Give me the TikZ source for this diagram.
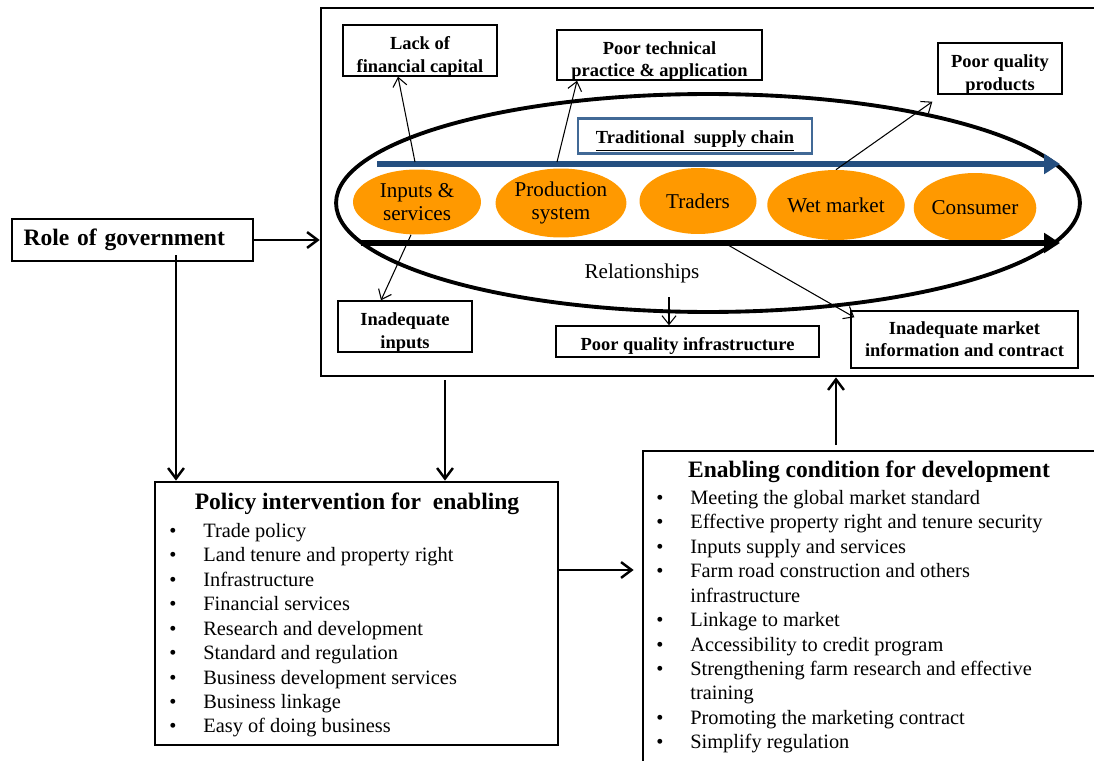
\documentclass[tikz,border=0pt]{standalone}
\usepackage{fontspec}
\setmainfont{Liberation Serif}
\usetikzlibrary{shapes.geometric,arrows.meta,positioning}
\definecolor{chainorange}{RGB}{255,153,0}
\definecolor{chainblue}{RGB}{37,79,128}
\definecolor{tagblue}{RGB}{65,105,150}
\newcommand{\bul}{\makebox[0.68cm][l]{\textbullet}}
\newcommand{\ind}{\hspace*{0.68cm}}
% lower the text inside a box without changing the box
\newcommand{\lift}[2][-3.4pt]{\raisebox{#1}[\height][\depth]{\begin{tabular}{@{}c@{}}#2\end{tabular}}}

\begin{document}
\begin{tikzpicture}[x=0.02cm, y=-0.02cm,
	box/.style={draw, line width=0.8pt, inner sep=1pt,
		font=\fontsize{10.5}{13}\selectfont\bfseries},
	frame/.style={draw, line width=1.6pt},
	stage/.style={ellipse, fill=chainorange, align=center, inner sep=0pt,
		font=\fontsize{12}{13.5}\selectfont},
	bigarrow/.style={line width=1.4pt, -{Straight Barb[length=6pt,width=9pt]}},
	thinarrow/.style={line width=0.6pt, -{Straight Barb[length=5pt,width=8pt]}},
	flow/.style={line width=3pt, -{Triangle[length=9pt,width=11pt]}},
	listtxt/.style={align=left, inner sep=0pt, anchor=north west,
		font=\fontsize{11.6}{13.9}\selectfont},
	head/.style={font=\fontsize{13.4}{15}\selectfont\bfseries}]
\useasboundingbox (0,0) rectangle (1094,760);

% frames
\node[frame, minimum width=15.78cm, minimum height=7.36cm] (main) at (715.5,192) {};
\node[frame, minimum width=9.34cm, minimum height=6.48cm] (enab) at (876.5,613) {};
\node[frame, minimum width=8.06cm, minimum height=5.26cm] (policy) at (356.5,613.5) {};
\node[frame, head, minimum width=4.82cm, minimum height=0.84cm, text width=4.36cm,
	align=left] (rog) at (132.5,240) {Role of government};

% supply chain
\node[draw, ellipse, line width=2.2pt, minimum width=14.88cm, minimum height=4.36cm] (chain) at (708,203) {};
\node[stage, minimum width=2.56cm, minimum height=1.3cm] (inp) at (417,202) {Inputs \&\\services};
\node[stage, minimum width=2.56cm, minimum height=1.38cm] (prod) at (561,203) {Production\\system};
\node[stage, minimum width=2.34cm, minimum height=1.32cm] (trad) at (698,201) {Traders};
\node[stage, minimum width=2.52cm, minimum height=1.4cm] (wet) at (836,205) {Wet market};
\node[stage, minimum width=2.28cm, minimum height=1.4cm] (cons) at (975,208) {\raisebox{-2pt}{Consumer}};

\coordinate (b1) at (377,164);
\coordinate (b2) at (1060,164);
\coordinate (k1) at (361,243);
\coordinate (k2) at (1060,243);
\draw[flow, chainblue] (b1) -- (b2);
\draw[flow] (k1) -- (k2);

\node[draw=tagblue, line width=1.6pt, minimum width=4.68cm, minimum height=0.64cm,
	font=\fontsize{10.5}{13}\selectfont\bfseries] (trsc) at (695,136) {\lift[-2pt]{\underline{Traditional\ \ supply chain}}};
\node[font=\fontsize{12}{14}\selectfont] (rel) at (642,273) {Relationships};

% constraints
\node[box, minimum width=3.08cm, minimum height=1.02cm] (lack) at (420,50.5) {\lift{Lack of\\financial capital}};
\node[box, minimum width=4.1cm, minimum height=1.0cm] (tech) at (659.5,55) {\lift{Poor technical\\practice \& application}};
\node[box, minimum width=2.48cm, minimum height=1.02cm] (qual) at (1000,68.5) {\lift{Poor quality\\products}};
\node[box, minimum width=2.68cm, minimum height=1.02cm] (inad) at (405,326.5) {\lift{Inadequate\\inputs}};
\node[box, minimum width=5.26cm, minimum height=0.62cm] (infra) at (687.5,341.5) {\lift[-2.4pt]{Poor quality infrastructure}};
\node[box, minimum width=4.54cm, minimum height=1.14cm] (info) at (964.5,339.5) {\lift[-0.8pt]{Inadequate market\\information and contract}};

\coordinate (t1) at (415,162);
\coordinate (t2) at (557,162);
\coordinate (r1) at (669,297);
\coordinate (k3) at (728,245);
\draw[thinarrow] (t1) -- ([xshift=-0.44cm]lack.south);
\draw[thinarrow] (t2) -- ([xshift=-1.65cm]tech.south);
\draw[thinarrow] (wet.north) -- ([shift={(-5,7)}]qual.south west);
\draw[thinarrow] ([xshift=-0.12cm]inp.south) -- ([xshift=-0.48cm]inad.north);
\draw[thinarrow] (r1) -- (r1 |- infra.north);
\draw[thinarrow] (k3) -- ([shift={(4,7)}]info.north west);

% policy
\node[head] (poltitle) at (357,504) {Policy intervention for\ \ enabling};
\node[listtxt] (pollist) at (169,523) {\bul Trade policy\\
	\bul Land tenure and property right\\
	\bul Infrastructure\\
	\bul Financial services\\
	\bul Research and development\\
	\bul Standard and regulation\\
	\bul Business development services\\
	\bul Business linkage\\
	\bul Easy of doing business};

% enabling condition
\node[head] (enabtitle) at (869,472) {Enabling condition for development};
\node[listtxt] (enablist) at (656,490) {\bul Meeting the global market standard\\
	\bul Effective property right and tenure security\\
	\bul Inputs supply and services\\
	\bul Farm road construction and others\\
	\ind infrastructure\\
	\bul Linkage to market\\
	\bul Accessibility to credit program\\
	\bul Strengthening farm research and effective\\
	\ind training\\
	\bul Promoting the marketing contract\\
	\bul Simplify regulation};

% links
\coordinate (g1) at (176,255);
\coordinate (m1) at (445,380);
\coordinate (p1) at (558,570);
\coordinate (e1) at (836,445);
\draw[bigarrow] (rog.east) -- (rog.east -| main.west);
\draw[bigarrow] (g1) -- (g1 |- policy.north);
\draw[bigarrow] (m1) -- (m1 |- policy.north);
\draw[bigarrow] (p1) -- ([xshift=-0.16cm]p1 -| enab.west);
\draw[bigarrow] (e1) -- (e1 |- main.south);
\end{tikzpicture}
\end{document}
